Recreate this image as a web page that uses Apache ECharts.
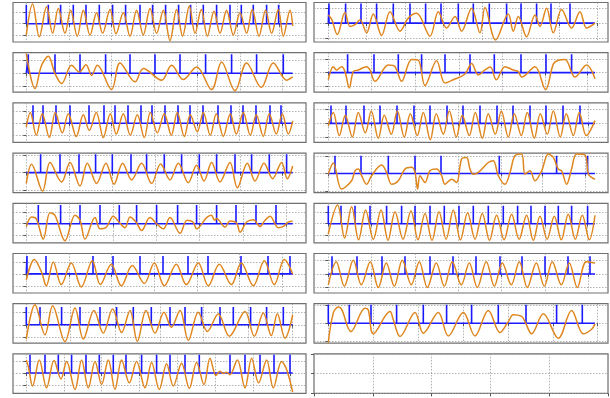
<!DOCTYPE html>
<html><head><meta charset="utf-8">
<script src="https://cdn.jsdelivr.net/npm/echarts@6/dist/echarts.min.js"></script>
<style>html,body{margin:0;padding:0;background:#fff}#c{width:610px;height:398px}</style>
</head><body><div id="c"></div>
<script>
// ---------- DATA (x = sample offset, y = normalised amplitude) ----------
const p1_wave = [[0,-1.0],[6.3,1.74],[13,-1.15],[20.3,1.5],[26.3,-0.85],[32,1.35],[38.7,-0.85],[44.3,1.2],[51,-1.1],[57,1.2],[63.7,-1.0],[70.3,0.97],[76.3,-0.85],[83.7,1.26],[89.7,-0.9],[97,0.97],[103.7,-1.1],[110.3,1.2],[117,-1.0],[123.7,1.35],[130.3,-0.85],[137,1.2],[143.7,-1.5],[150.3,1.26],[156.3,-1.1],[163,1.56],[168.7,-0.85],[175,1.26],[181,-1.1],[187.7,1.1],[193.7,-0.85],[200.3,1.2],[207,-1.0],[213.7,0.97],[220.3,-0.85],[226,1.26],[232.7,-1.1],[239.3,1.2],[245.3,-0.85],[252,1.26],[257,-1.1],[263.7,1.2],[266.4,-0.2]];
const p1_spikes = [0,22,34.3,47,59.7,73,86.3,99.3,113.7,126.3,139.3,152.3,164.3,177,190.3,203.7,215,227,240.3,252.3];
const p1_spikeH = 1.68, p1_yRange = [-1.62,1.88], p1_ticks = [0,42.7,84.7,127,169.7,211,253];

const p2_wave = [[0,1.55],[8.7,-1.21],[15.3,0.63],[22,1.34],[28.7,-0.03],[35.3,-0.82],[45.3,0.63],[53,0.1],[59.7,0.68],[65.3,-0.16],[71,0.63],[85.3,-1.29],[93.7,0.82],[108.7,-0.68],[117,0.37],[135.3,-0.55],[145.3,0.63],[157,-0.5],[170.3,0.5],[185.3,-1.29],[195.3,0.89],[208.7,-1.39],[220.3,0.82],[235,-1.13],[247,0.82],[260.3,-0.55],[266.4,-0.29]];
const p2_spikes = [2,28.7,53.7,79.3,103.7,128.7,153.7,179.3,205.3,230.3,257];
const p2_spikeH = 1.5, p2_yRange = [-1.5,1.63], p2_ticks = [0,42.7,85.3,128,171.3,213.7,256.3];

const p3_wave = [[0,-0.3],[4,0.9],[10,-1.0],[16,0.8],[23,-1.2],[29,0.9],[36,-0.8],[42,0.8],[50,-1.1],[57,0.7],[63,-0.6],[70,0.9],[77,-1.2],[84,0.8],[90,-0.9],[97,0.8],[104,-1.0],[111,0.7],[118,-1.2],[124,0.9],[131,-0.8],[138,0.8],[145,-1.0],[151,0.9],[158,-1.1],[164,0.7],[171,-0.7],[177,0.9],[184,-1.0],[190,0.8],[197,-1.1],[204,0.8],[210,-0.9],[217,0.9],[224,-1.0],[230,0.7],[237,-1.1],[243,0.8],[250,-0.9],[256,0.8],[262,-0.9],[266.4,0.2]];
const p3_spikes = [6.7,16.7,29.7,43.7,62.7,77.7,88.7,101.7,114.7,125.7,138.7,151.7,163.7,176.7,191.7,204.7,216.7,229.7,243.7,254.7];
const p3_spikeH = 1.5, p3_yRange = [-1.6,1.7], p3_ticks = [0,42.7,85.3,128,170.7,213.3,256];

const p4_wave = [[0,-0.62],[5.3,0.48],[16.3,-1.06],[23.7,0.58],[35.3,-0.54],[43.7,0.58],[53.7,-0.77],[61,0.54],[70.3,-0.62],[79.7,0.54],[87.7,-0.67],[96.3,0.54],[105.3,-0.42],[115.3,0.54],[125.3,-0.62],[134.3,0.5],[143.7,-0.42],[152,0.54],[162,-0.58],[170.3,0.42],[177.7,-0.48],[185.3,0.58],[193.7,-0.54],[203.7,0.58],[211,-0.87],[221,0.54],[228.7,-0.48],[237.7,0.54],[246.3,-0.35],[255.3,0.58],[261,-0.35],[266.4,0.38]];
const p4_spikes = [14.3,33.7,52.7,69.3,86,104.7,120.3,138,155.3,173,190.3,208.7,225.3,243,260.3];
const p4_spikeH = 1.06, p4_yRange = [-1.15,1.12], p4_ticks = [0,43,86.3,128.7,171.3,213.7,256.3];

const p5_wave = [[0,-0.23],[5.3,0.57],[10,0.4],[17,-1.29],[23.7,0.91],[28.7,0.7],[38.7,-1.43],[48.7,0.71],[53.7,0.3],[58.7,-1.29],[68.7,0.51],[73.7,-0.43],[80,-0.3],[87,0.63],[93,0.1],[98.7,-0.34],[103.7,0.57],[110,0.1],[115.3,-0.57],[123.7,0.51],[130.3,0],[137,-0.43],[143.7,0.51],[153.7,-0.8],[160.7,0.29],[166.7,0.14],[170.3,-0.43],[180.3,0.51],[185,0.71],[188.3,0.29],[190.3,0.43],[198.7,-0.29],[203.7,0.23],[210.3,0.06],[213.7,-0.71],[220.3,0.14],[227,0.34],[233.7,-0.23],[238,0.2],[243.7,0.63],[252,-0.34],[257,-0.23],[262,0.14],[266.4,0.2]];
const p5_spikes = [12,34.3,53.7,73.7,93,110.3,130.3,151.3,170.3,190.3,209.7,229.7,249.7];
const p5_spikeH = 1.57, p5_yRange = [-1.6,1.71], p5_ticks = [0,43.3,86.7,130,173.3,216.7,260];

const p6_wave = [[0,-0.5],[8,1.2],[15,0.2],[20,-1.0],[27,1.0],[35,-0.9],[45,0.9],[55,-1.1],[66,1.1],[74,-0.9],[85,0.8],[95,-1.0],[106,0.7],[118,-0.8],[128,0.9],[138,-1.0],[150,0.8],[160,-0.9],[172,0.9],[182,-1.0],[193,0.8],[205,-0.9],[215,0.9],[227,-1.0],[238,1.1],[248,-0.9],[258,1.2],[266.4,0.0]];
const p6_spikes = [0.7,19.7,66.7,86.7,113.7,136.7,161.7,181.7,214.7,241.7,263.7];
const p6_spikeH = 1.5, p6_yRange = [-1.6,1.7], p6_ticks = [0,42.7,85.3,128,170.7,213.3,256];

const p7_wave = [[0,-1.19],[8.7,1.67],[18.7,-0.83],[26.3,1.58],[38.7,-1.39],[48.7,1.39],[57,-1.19],[67.7,1.19],[77,-0.69],[86.3,1.31],[95.3,-0.64],[103.7,1.19],[111,-1.39],[119.7,1.19],[128.7,-0.69],[137.7,1.03],[145,-0.2],[153.7,1.19],[162,-1.31],[172,1.03],[181,-0.55],[192,0.9],[203,-0.95],[218.7,1.11],[228,-0.95],[237,0.97],[245,-0.9],[251,0.92],[258.7,-1.11],[266.4,0.83]];
const p7_spikes = [0,13.7,35.3,53.7,73.7,90.3,107,125,143.7,158.7,175.3,193.7,207,224.3,240.3,257];
const p7_spikeH = 1.47, p7_yRange = [-1.53,1.75], p7_ticks = [0,44.3,88.7,133.7,177,222,266.3];

const p8_wave = [[0,1.1],[2,0.55],[6.3,-1.1],[13,1.1],[20.3,-1.25],[27.7,1.05],[34.7,-0.5],[40.3,0.97],[48.7,-1.39],[55.3,1.1],[62,-1.25],[68.7,0.97],[75.3,-0.97],[82,1.1],[88.7,-1.39],[95.3,1.1],[103,-0.83],[110.3,0.97],[118.7,-1.25],[125.3,0.89],[133,-1.39],[140.3,0.78],[147,-1.1],[155.3,0.83],[163,-1.3],[170.3,0.89],[177.7,-0.97],[183.7,1.25],[189.7,-0.22],[193.7,0.14],[197,-0.05],[200.3,0.06],[203.7,-0.14],[211,1.1],[218.7,-1.25],[225.3,1.25],[232.3,-0.83],[240.3,1.1],[247,-1.25],[255.3,0.97],[260.3,0.3],[266.4,-1.61]];
const p8_spikes = [3.7,18.7,32,45.3,59.7,73,87,99.7,115.3,130.3,143.7,158.7,173,203.7,218.7,233.7,247.7,263.7];
const p8_spikeH = 1.53, p8_yRange = [-1.72,1.61], p8_ticks = [0,38,75.3,113,151,188.7,227,264.3];

const p9_wave = [[0,0.54],[3.3,0.26],[9,-0.76],[16.7,0.7],[21.7,-0.22],[26.7,-0.11],[31.7,0.22],[38.3,-0.65],[45,0.61],[53.3,-0.83],[61.7,0.76],[71.7,-0.54],[80,0.33],[88.3,0.65],[101.7,-0.87],[110,0.76],[118.3,-0.33],[126.7,0.43],[133.3,-0.54],[143.3,0.98],[151.7,-0.65],[156.7,1.04],[167.3,-1.13],[180,0.61],[185,-0.54],[190,0.43],[198.3,-0.91],[206.7,0.54],[211.7,-0.22],[218.3,0.98],[225,-0.65],[233.3,0.91],[243.3,-0.33],[251.7,0.76],[258.3,-0.33],[266.7,0]];
const p9_spikes = [0.7,17.3,32.7,48.3,65,81.7,97.3,112.7,130,145,161,178.3,192.7,208.3,222.7,241.7];
const p9_spikeH = 1.3, p9_yRange = [-1.26,1.37], p9_ticks = [0,38.3,76.7,115,154,192.7,230.7,269];

const p10_wave = [[0,-0.52],[5,0.43],[8.3,0.19],[13.3,0.43],[16.7,0.07],[21,-1.12],[25,0.07],[30,0.19],[38.3,0.43],[41.7,0.19],[46.7,-0.64],[60,0.55],[66.7,0.43],[73.3,-0.64],[83.3,0.95],[90,0.9],[96.7,-0.95],[108.3,0.86],[116.7,-0.76],[125,-0.52],[136.7,-0.1],[143.3,0.67],[150,-0.17],[156.7,0.19],[162,0.4],[168,-0.52],[176.7,0.43],[185,0.19],[190,0.07],[193.3,-0.33],[206.7,0.43],[217.3,-1.24],[225,0.62],[230,0.9],[236.7,0.95],[246.7,-0.33],[258.3,0.55],[266.7,-0.45]];
const p10_spikes = [19.3,45.7,70,93.3,116.7,141.7,166,192.7,217.7,243.3];
const p10_spikeH = 1.33, p10_yRange = [-1.43,1.45], p10_ticks = [0,43.3,86.7,130.7,174,216.7,259.3];

const p11_wave = [[0,-0.2],[5,0.8],[11,-0.9],[17,0.6],[24,-1.0],[30,0.8],[37,-0.7],[43,0.9],[50,-1.1],[56,0.6],[63,-0.8],[69,0.9],[76,-1.0],[82,0.7],[89,-0.9],[95,0.8],[102,-1.2],[108,0.7],[115,-0.8],[121,0.9],[128,-1.0],[134,0.6],[141,-0.9],[147,0.8],[154,-1.1],[160,0.7],[167,-0.8],[173,0.9],[180,-1.0],[186,0.7],[193,-0.9],[199,0.8],[206,-1.1],[212,0.7],[219,-0.8],[225,0.9],[232,-1.0],[238,0.7],[245,-0.9],[251,0.8],[258,-0.9],[266.7,0.2]];
const p11_spikes = [2.7,17.7,35.7,51.7,68.7,85.7,101.7,118.7,134.7,151.7,168.7,184.7,201.7,217.7,234.7,251.7];
const p11_spikeH = 1.3, p11_yRange = [-1.4,1.5], p11_ticks = [0,43.3,86.7,130,173.3,216.7,260];

const p12_wave = [[0,-0.04],[5,0.6],[13.3,-0.9],[23.3,-0.42],[26.7,0.15],[30,0.25],[33.3,-0.13],[38.3,-0.62],[43.3,-0.13],[53.3,0.48],[58.3,0.06],[63.3,-0.62],[70,-0.42],[76.7,0.25],[83.3,0.35],[86.7,0.06],[89.3,-0.9],[91.7,-0.13],[96.7,-0.52],[101.7,0.15],[108.3,0.25],[113.3,-0.13],[116.7,-0.62],[123.3,-0.33],[128.3,-0.52],[133.3,0.83],[138.3,0.92],[141.7,0.25],[145,-0.04],[150,0.06],[160,0.63],[165,0.73],[170,-0.13],[176.7,-0.62],[181.7,0.06],[186.7,1.02],[193.3,1.12],[196.7,-0.04],[201.7,0.15],[206.7,-0.42],[213.3,0.15],[220,1.12],[225,0.92],[230,0.25],[233.3,0.15],[238.3,-0.62],[243.3,0.25],[248.3,1.12],[256.7,1.06],[260,-0.04],[263.3,-0.23],[266.7,-0.33]];
const p12_spikes = [6.7,32.7,60,86.7,112.7,171,228.3,259.3];
const p12_spikeH = 1.02, p12_yRange = [-1.1,1.17], p12_ticks = [0,43.3,86.7,130,173.3,214,256.7];

const p13_wave = [[0,-0.86],[9.3,1.57],[16.3,-1.2],[23.3,1.43],[30.3,-1.35],[37.3,1.14],[45,-1.3],[52.7,1.14],[59.7,-1.4],[66.7,1.0],[74.7,-1.3],[82.7,1.09],[89.7,-1.35],[96.7,0.86],[103.7,-1.4],[110.7,1.0],[117.8,-1.3],[125,1.14],[132.2,-1.35],[139.3,0.91],[146.7,-1.3],[154,0.86],[161.2,-1.4],[168.3,0.71],[175.8,-1.35],[183.3,0.8],[190.8,-1.3],[198.3,0.71],[205,-1.4],[211.7,0.63],[218.8,-1.3],[226,0.63],[233,-1.35],[240,0.8],[247,-1.3],[254,0.71],[261,-1.35],[266.7,0.71]];
const p13_spikes = [0,12.7,26.7,41.7,58.3,73.3,86.7,101.7,116,130.7,145,160,175,189.3,202.7,216.7,230,243.3,259.3];
const p13_spikeH = 1.5, p13_yRange = [-1.6,1.71], p13_ticks = [0,43.3,86.7,130,173.3,216.7,259.3];

const p14_wave = [[0,-0.8],[8,0.9],[16,-0.9],[25,1.0],[33,-0.8],[42,0.9],[50,-1.0],[58,0.8],[66,-0.9],[74,1.0],[83,-0.8],[91,0.9],[99,-1.0],[108,0.8],[116,-0.9],[124,0.9],[133,-0.8],[141,0.8],[149,-1.0],[158,0.9],[166,-0.9],[174,0.8],[183,-0.8],[191,0.9],[199,-1.0],[208,0.8],[216,-0.9],[224,0.9],[233,-0.8],[241,0.8],[249,-1.0],[258,0.9],[266.7,0.8]];
const p14_spikes = [3.7,28.7,53.7,76.7,101.7,124.7,147.7,171.7,193.7,216.7,239.7,261.7];
const p14_spikeH = 1.3, p14_yRange = [-1.4,1.5], p14_ticks = [0,43.3,86.7,130,173.3,216.7,260];

const p15_wave = [[0,-1.1],[5,0.57],[10,0.91],[13.3,0.79],[22.7,-0.47],[36.7,0.85],[40,0.75],[45,-0.6],[61.7,0.66],[65,0.19],[71.7,-0.75],[86.7,0.6],[95,-0.57],[110,0.6],[120,-0.72],[135,0.6],[146.7,-0.72],[160,0.72],[171.7,-0.53],[180,0.09],[185,0.47],[193.3,0.38],[196.7,0.09],[203.3,-0.6],[215,0.53],[230,-0.85],[243.3,0.72],[255,-0.6],[263.3,-0.34],[266.7,-0.04]];
const p15_spikes = [0,21,42.7,68.3,95,118.3,143.3,170,197.7,228.3,254];
const p15_spikeH = 1.04, p15_yRange = [-1.13,1.1], p15_ticks = [0,45,90,135,180,225,269.3];

const yTickValues = [-1, 0, 1];
const emptyXTicks = [0, 0.2, 0.4, 0.6, 0.8, 1];
const emptyYTicks = [0, 0.5, 1];

// ---------- BUILD ----------
const panels = [
  {w:p1_wave,s:p1_spikes,h:p1_spikeH,yr:p1_yRange,t:p1_ticks,row:0,col:0},
  {w:p2_wave,s:p2_spikes,h:p2_spikeH,yr:p2_yRange,t:p2_ticks,row:1,col:0},
  {w:p3_wave,s:p3_spikes,h:p3_spikeH,yr:p3_yRange,t:p3_ticks,row:2,col:0},
  {w:p4_wave,s:p4_spikes,h:p4_spikeH,yr:p4_yRange,t:p4_ticks,row:3,col:0},
  {w:p5_wave,s:p5_spikes,h:p5_spikeH,yr:p5_yRange,t:p5_ticks,row:4,col:0},
  {w:p6_wave,s:p6_spikes,h:p6_spikeH,yr:p6_yRange,t:p6_ticks,row:5,col:0},
  {w:p7_wave,s:p7_spikes,h:p7_spikeH,yr:p7_yRange,t:p7_ticks,row:6,col:0},
  {w:p8_wave,s:p8_spikes,h:p8_spikeH,yr:p8_yRange,t:p8_ticks,row:7,col:0},
  {w:p9_wave,s:p9_spikes,h:p9_spikeH,yr:p9_yRange,t:p9_ticks,row:0,col:1},
  {w:p10_wave,s:p10_spikes,h:p10_spikeH,yr:p10_yRange,t:p10_ticks,row:1,col:1},
  {w:p11_wave,s:p11_spikes,h:p11_spikeH,yr:p11_yRange,t:p11_ticks,row:2,col:1},
  {w:p12_wave,s:p12_spikes,h:p12_spikeH,yr:p12_yRange,t:p12_ticks,row:3,col:1},
  {w:p13_wave,s:p13_spikes,h:p13_spikeH,yr:p13_yRange,t:p13_ticks,row:4,col:1},
  {w:p14_wave,s:p14_spikes,h:p14_spikeH,yr:p14_yRange,t:p14_ticks,row:5,col:1},
  {w:p15_wave,s:p15_spikes,h:p15_spikeH,yr:p15_yRange,t:p15_ticks,row:6,col:1}
];

const colLeft = [13, 314], colWidth = [293, 294], colXMin = [-13.3, -14.3], XMAX = 279.7;
const rowTop = r => 2.5 + 50.2 * r, rowH = 39.5;
const gridStyle = {color:'#a0a0a0', width:0.8, type:[1.5,1.5]};
const tickStyle = {color:'#555', width:1};

const grids = [], xAxes = [], yAxes = [], series = [];
panels.forEach((p, i) => {
  grids.push({left:colLeft[p.col], top:rowTop(p.row), width:colWidth[p.col], height:rowH,
    show:true, borderColor:'#707070', borderWidth:1.2, backgroundColor:'#fff', containLabel:false});
  xAxes.push({gridIndex:i, type:'value', min:colXMin[p.col], max:XMAX,
    axisLine:{show:false}, axisLabel:{show:false},
    axisTick:{show:true, length:3, customValues:p.t, lineStyle:tickStyle},
    splitLine:{show:true, lineStyle:gridStyle}});
  yAxes.push({gridIndex:i, type:'value', min:p.yr[0], max:p.yr[1],
    axisLine:{show:false}, axisLabel:{show:false},
    axisTick:{show:true, length:3, customValues:yTickValues, lineStyle:tickStyle},
    splitLine:{show:true, lineStyle:gridStyle}});
  const end = p.w[p.w.length - 1][0];
  const pulse = [[0, 0]];
  p.s.forEach(x => { pulse.push([x, 0], [x, p.h], [x, 0]); });
  pulse.push([end, 0]);
  series.push({type:'line', xAxisIndex:i, yAxisIndex:i, data:pulse, showSymbol:false, symbol:'none',
    lineStyle:{color:'#1a1aff', width:1.6}, z:2, silent:true});
  series.push({type:'line', xAxisIndex:i, yAxisIndex:i, data:p.w, smooth:0.35, showSymbol:false, symbol:'none',
    lineStyle:{color:'#df861e', width:1.5}, z:3, silent:true});
});
// empty last panel
const ei = panels.length;
grids.push({left:colLeft[1], top:rowTop(7), width:colWidth[1], height:rowH, show:true,
  borderColor:'#707070', borderWidth:1.2, backgroundColor:'#fff', containLabel:false});
xAxes.push({gridIndex:ei, type:'value', min:0, max:1,
  axisLine:{show:false}, axisLabel:{show:false},
  axisTick:{show:true, length:3, customValues:emptyXTicks, lineStyle:tickStyle},
  splitLine:{show:true, lineStyle:gridStyle}});
yAxes.push({gridIndex:ei, type:'value', min:0, max:1,
  axisLine:{show:false}, axisLabel:{show:false},
  axisTick:{show:true, length:3, customValues:emptyYTicks, lineStyle:tickStyle},
  splitLine:{show:true, lineStyle:gridStyle}});

const chart = echarts.init(document.getElementById('c'));
chart.setOption({animation:false, backgroundColor:'#fff', grid:grids, xAxis:xAxes, yAxis:yAxes, series:series});
</script></body></html>
